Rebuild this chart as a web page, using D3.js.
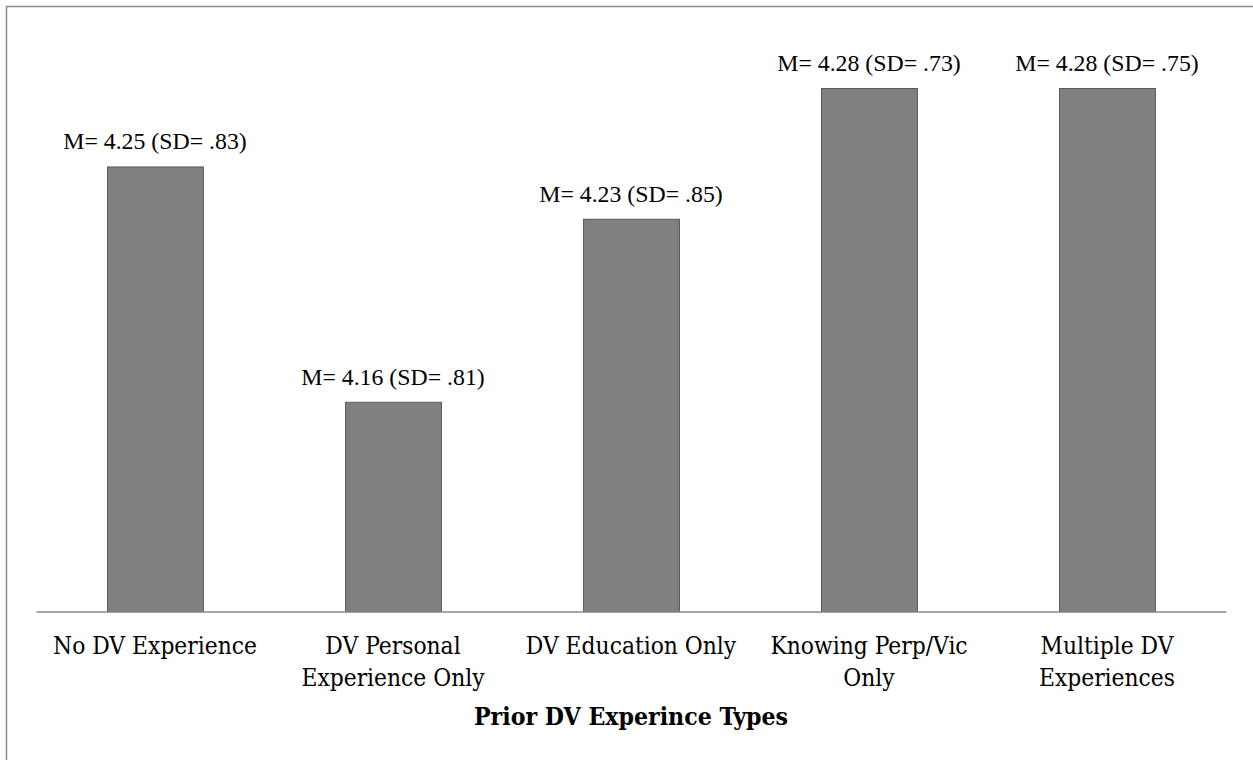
<!DOCTYPE html>
<html>
<head>
<meta charset="utf-8">
<script src="https://cdn.jsdelivr.net/npm/d3@7/dist/d3.min.js"></script>
<style>
  html, body { margin: 0; padding: 0; background: #fff; }
  svg { display: block; }
</style>
</head>
<body>
<svg id="chart" width="1253" height="760"></svg>
<script>
const categories = ["No DV Experience", "DV Personal Experience Only", "DV Education Only", "Knowing Perp/Vic Only", "Multiple DV Experiences"];
const means = [4.25, 4.16, 4.23, 4.28, 4.28];
const sds = [".83", ".81", ".85", ".73", ".75"];
const axisTitle = "Prior DV Experince Types";
const yDomain = [4.08, 4.28];

const svg = d3.select("#chart");

// outer frame
svg.append("rect")
  .attr("x", 6.5).attr("y", 6.5)
  .attr("width", 1300).attr("height", 800)
  .attr("fill", "none").attr("stroke", "#8a8a8a").attr("stroke-width", 1.5);

const x = d3.scaleBand()
  .domain(categories)
  .range([36, 1226])
  .paddingInner(0.597)
  .paddingOuter(0.2985);

const y = d3.scaleLinear().domain(yDomain).range([611, 88]);

const data = categories.map((c, i) => ({ c, m: means[i], sd: sds[i] }));

svg.append("g").selectAll("rect").data(data).join("rect")
  .attr("x", d => x(d.c) + 0.5)
  .attr("y", d => y(d.m) + 0.5)
  .attr("width", x.bandwidth())
  .attr("height", d => y(yDomain[0]) - y(d.m))
  .attr("fill", "#808080")
  .attr("stroke", "#595959")
  .attr("stroke-width", 1);

// baseline axis
const xAxis = d3.axisBottom(x).tickSize(0).tickFormat("");
const ax = svg.append("g").attr("transform", `translate(0,${y(yDomain[0]) + 0.5})`).call(xAxis);
ax.select(".domain").attr("stroke", "#8a8a8a").attr("stroke-width", 1.5);

// value labels
svg.append("g").selectAll("text").data(data).join("text")
  .attr("x", d => x(d.c) + x.bandwidth() / 2)
  .attr("y", d => y(d.m) - 17)
  .attr("text-anchor", "middle")
  .attr("font-family", "'Liberation Serif', 'Times New Roman', serif")
  .attr("font-size", 23.8)
  .attr("fill", "#000")
  .text(d => `M= ${d.m.toFixed(2)} (SD= ${d.sd})`);

// category labels with wrapping
const catG = svg.append("g");
data.forEach(d => {
  const t = catG.append("text")
    .attr("x", x(d.c) + x.bandwidth() / 2)
    .attr("y", 654)
    .attr("text-anchor", "middle")
    .attr("font-family", "'DejaVu Serif', serif")
    .attr("font-stretch", "condensed")
    .attr("font-size", 24.3)
    .attr("fill", "#000");
  const words = d.c.split(" ");
  let line = [];
  let lines = [];
  const probe = t.append("tspan");
  words.forEach(w => {
    const test = line.concat([w]).join(" ");
    probe.text(test);
    if (probe.node().getComputedTextLength() > 228 && line.length) {
      lines.push(line.join(" "));
      line = [w];
    } else {
      line.push(w);
    }
  });
  lines.push(line.join(" "));
  probe.remove();
  lines.forEach((l, i) => {
    t.append("tspan")
      .attr("x", x(d.c) + x.bandwidth() / 2)
      .attr("dy", i === 0 ? 0 : 32)
      .text(l);
  });
});

svg.append("text")
  .attr("x", (x.range()[0] + x.range()[1]) / 2)
  .attr("y", 725)
  .attr("text-anchor", "middle")
  .attr("font-family", "'DejaVu Serif', serif")
  .attr("font-stretch", "condensed")
  .attr("font-weight", "bold")
  .attr("font-size", 24.6)
  .attr("fill", "#000")
  .text(axisTitle);
</script>
</body>
</html>
